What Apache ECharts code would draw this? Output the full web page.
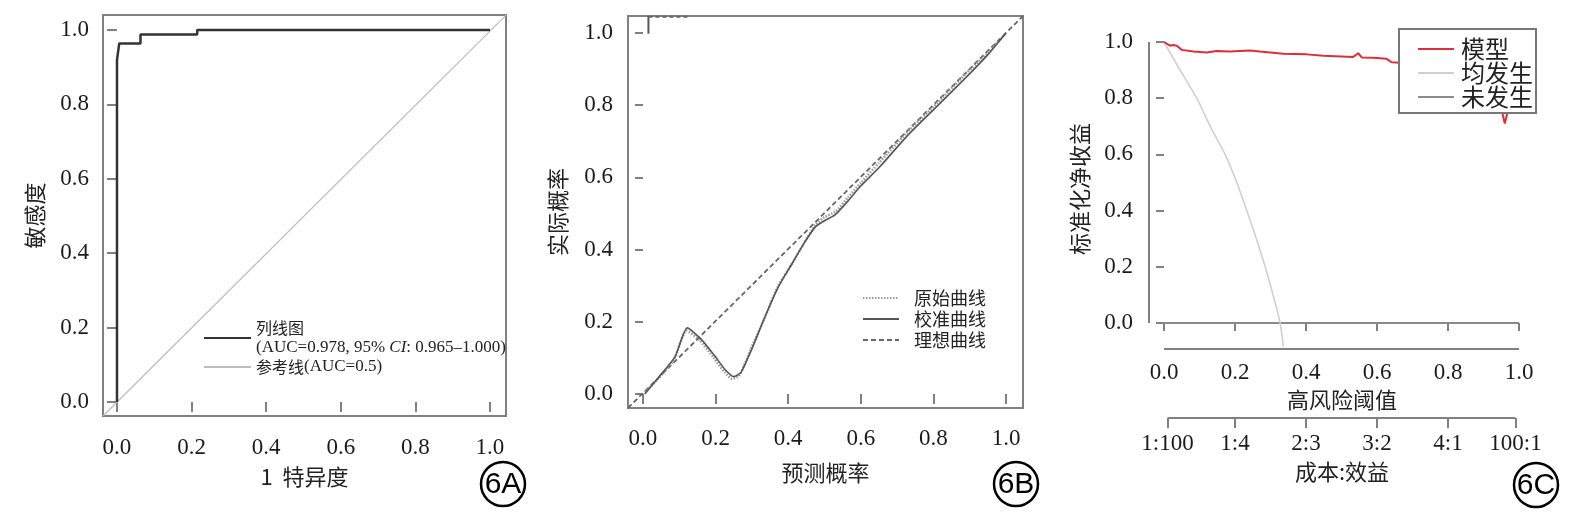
<!DOCTYPE html>
<html><head><meta charset="utf-8">
<script src="https://cdn.jsdelivr.net/npm/echarts@6/dist/echarts.min.js"></script>
<style>html,body{margin:0;padding:0;background:#fff}#c{width:1579px;height:525px}</style>
</head><body><div id="c"></div>
<script>
// ---------- shared ticks ----------
const unitTicks = [0, 0.2, 0.4, 0.6, 0.8, 1.0];
const costTickVals = [0.01, 0.2, 0.4, 0.6, 0.8, 0.99];
const costTickLabels = ['1:100', '1:4', '2:3', '3:2', '4:1', '100:1'];

// ---------- Panel A: ROC ----------
const rocNomogram = [[0,0],[0,0.919],[0.006,0.964],[0.063,0.964],[0.063,0.988],[0.215,0.988],[0.215,1.0],[1.0,1.0]];
const rocReference = [[-0.0375,-0.0376],[1.043,1.040]];
const legendA1 = '{a|列线图}\n{b|(AUC=0.978, 95% }{i|CI}{b|: 0.965–1.000)}';
const legendA2 = '{a|参考线}{b|(AUC=0.5)}';

// ---------- Panel B: calibration ----------
const calApparent = [[0.005,0.005],[0.04,0.04],[0.085,0.095],[0.12,0.175],[0.155,0.15],[0.195,0.1],[0.225,0.06],[0.245,0.042],[0.265,0.05],[0.295,0.12],[0.335,0.21],[0.37,0.295],[0.41,0.36],[0.445,0.42],[0.475,0.468],[0.5,0.49],[0.53,0.505],[0.565,0.545],[0.6,0.585],[0.65,0.64],[0.725,0.722],[0.81,0.805],[0.89,0.888],[0.95,0.945],[1.0,1.0]];
const calCorrected = [[0.005,0.0],[0.042,0.045],[0.088,0.103],[0.122,0.183],[0.16,0.152],[0.198,0.105],[0.226,0.068],[0.25,0.048],[0.27,0.06],[0.30,0.125],[0.336,0.214],[0.373,0.297],[0.41,0.36],[0.445,0.42],[0.475,0.463],[0.50,0.48],[0.529,0.496],[0.565,0.535],[0.598,0.574],[0.653,0.63],[0.726,0.713],[0.809,0.796],[0.892,0.879],[0.95,0.94],[1.0,1.0]];
const calIdeal = [[-0.0413,-0.0388],[1.0468,1.047]];
const rugTick = [[0.015,0.998],[0.015,1.047]];
const rugTop = [[0.015,1.045],[0.125,1.045]];

// ---------- Panel C: decision curve ----------
const dcaModel = [[0,1.0],[0.017,0.987],[0.026,0.989],[0.036,0.987],[0.05,0.972],[0.083,0.966],[0.12,0.963],[0.148,0.968],[0.186,0.966],[0.242,0.970],[0.27,0.966],[0.336,0.958],[0.402,0.956],[0.449,0.951],[0.533,0.947],[0.547,0.960],[0.557,0.945],[0.59,0.944],[0.627,0.940],[0.641,0.928],[0.665,0.926],[0.75,0.915],[0.85,0.895],[0.93,0.86],[0.945,0.79],[0.96,0.71],[0.975,0.79],[0.99,0.85]];
const dcaAll = [[0,1.0],[0.036,0.92],[0.092,0.8],[0.13,0.7],[0.172,0.6],[0.205,0.5],[0.233,0.4],[0.26,0.3],[0.285,0.2],[0.307,0.1],[0.327,0.0],[0.336,-0.085]];
const dcaNone = [[0,0],[1,0]];

// axis ranges
const aX = [-0.0375, 1.0429], aY = [-0.0376, 1.0403];
const bX = [-0.0413, 1.0468], bY = [-0.0388, 1.047];
const cX = [-0.0423, 1.045], cY = [-0.0925, 1.0463];

const serif = 'Liberation Serif';
const cjk = 'Noto Sans CJK SC';
const axisGray = '#808080';
const fmt1 = v => v.toFixed(1);

function lbl(fs, margin, vals, fmt) {
  return {customValues: vals || unitTicks, formatter: fmt || fmt1, fontFamily: serif, fontSize: fs, color: '#1a1a1a', margin: margin};
}
function tck(len, vals) {
  return {show: true, customValues: vals || unitTicks, length: len, lineStyle: {color: axisGray, width: 2}};
}
function vAxis(grid, range, opts) {
  return Object.assign({
    type: 'value', gridIndex: grid, min: range[0], max: range[1],
    axisLine: {show: false}, splitLine: {show: false},
    axisTick: tck(10),
    nameLocation: 'middle',
    nameTextStyle: {fontFamily: cjk, fontSize: 22, color: '#222'}
  }, opts);
}

const chart = echarts.init(document.getElementById('c'));
chart.setOption({
  animation: false,
  grid: [
    {left: 103, top: 15, width: 403, height: 401, show: true, borderColor: axisGray, borderWidth: 2},
    {left: 628, top: 16, width: 395, height: 392, show: true, borderColor: axisGray, borderWidth: 2},
    {left: 1149, top: 29, width: 386, height: 320},
    {left: 1149, top: 408, width: 386, height: 10}
  ],
  xAxis: [
    vAxis(0, aX, {name: '1  特异度', nameGap: 50, axisLabel: lbl(23, 20)}),
    vAxis(1, bX, {name: '预测概率', nameGap: 54, axisLabel: lbl(23, 19)}),
    vAxis(2, cX, {name: '高风险阈值', nameGap: 38, axisTick: tck(8), axisLabel: lbl(23, 12)}),
    vAxis(3, cX, {name: '成本:效益', nameGap: 43, axisTick: tck(10, costTickVals),
      axisLabel: lbl(23, 14, costTickVals, v => costTickLabels[costTickVals.indexOf(v)] || '')})
  ],
  yAxis: [
    vAxis(0, aY, {name: '敏感度', nameGap: 57, axisLabel: lbl(23, 14)}),
    vAxis(1, bY, {name: '实际概率', nameGap: 59, axisTick: tck(8), axisLabel: lbl(23, 15)}),
    vAxis(2, cY, {name: '标准化净收益', nameGap: 58, axisTick: tck(8), axisLabel: lbl(23, 16)}),
    {type: 'value', gridIndex: 3, min: 0, max: 1, show: false}
  ],
  legend: [
    {
      data: ['列线图', '参考线'], orient: 'vertical', left: 203, top: 320, itemGap: 2,
      itemWidth: 47, itemHeight: 14, padding: 0, itemStyle: {opacity: 0},
      formatter: n => n === '列线图' ? legendA1 : legendA2,
      textStyle: {rich: {
        a: {fontFamily: cjk, fontSize: 16, lineHeight: 20, color: '#222'},
        b: {fontFamily: serif, fontSize: 17, lineHeight: 20, color: '#222'},
        i: {fontFamily: serif, fontSize: 17, lineHeight: 20, fontStyle: 'italic', color: '#222'}
      }}
    },
    {
      data: ['原始曲线', '校准曲线', '理想曲线'], orient: 'vertical', left: 862, top: 288, itemGap: 1,
      itemWidth: 36, itemHeight: 14, padding: 0, itemStyle: {opacity: 0},
      textStyle: {fontFamily: cjk, fontSize: 18, lineHeight: 20, color: '#222', padding: [0, 0, 0, 10]}
    },
    {
      data: ['模型', '均发生', '未发生'], orient: 'vertical', left: 1399, top: 29, itemGap: 0,
      itemWidth: 36, itemHeight: 14, padding: [8, 3, 4, 18], itemStyle: {opacity: 0},
      backgroundColor: '#fff', borderColor: '#777', borderWidth: 2,
      textStyle: {fontFamily: cjk, fontSize: 24, lineHeight: 20, color: '#222', padding: [0, 0, 0, 2]}
    }
  ],
  series: [
    {name: '参考线', type: 'line', xAxisIndex: 0, yAxisIndex: 0, data: rocReference, symbol: 'none', lineStyle: {color: '#bdbdbd', width: 1.3}, itemStyle: {color: '#bdbdbd'}},
    {name: '列线图', type: 'line', xAxisIndex: 0, yAxisIndex: 0, data: rocNomogram, symbol: 'none', lineStyle: {color: '#333', width: 2.5}, itemStyle: {color: '#333'}},

    {name: '理想曲线', type: 'line', xAxisIndex: 1, yAxisIndex: 1, data: calIdeal, symbol: 'none', lineStyle: {color: '#666', width: 1.8, type: [5, 3]}, itemStyle: {color: '#666'}},
    {name: '原始曲线', type: 'line', xAxisIndex: 1, yAxisIndex: 1, data: calApparent, symbol: 'none', smooth: 0.2, lineStyle: {color: '#999', width: 2.5, type: [1.5, 1.5]}, itemStyle: {color: '#999'}},
    {name: '校准曲线', type: 'line', xAxisIndex: 1, yAxisIndex: 1, data: calCorrected, symbol: 'none', smooth: 0.2, lineStyle: {color: '#555', width: 1.6}, itemStyle: {color: '#555'}},
    {name: 'rugTick', type: 'line', xAxisIndex: 1, yAxisIndex: 1, data: rugTick, symbol: 'none', clip: false, silent: true, lineStyle: {color: '#555', width: 2}},
    {name: 'rugTop', type: 'line', xAxisIndex: 1, yAxisIndex: 1, data: rugTop, symbol: 'none', clip: false, silent: true, lineStyle: {color: '#666', width: 2, type: [4, 3]}},

    {name: '未发生', type: 'line', xAxisIndex: 2, yAxisIndex: 2, data: dcaNone, symbol: 'none', lineStyle: {color: '#8a8a8a', width: 2}, itemStyle: {color: '#8a8a8a'}},
    {name: '均发生', type: 'line', xAxisIndex: 2, yAxisIndex: 2, data: dcaAll, symbol: 'none', smooth: 0.3, lineStyle: {color: '#d0d0d0', width: 1.6}, itemStyle: {color: '#d0d0d0'}},
    {name: '模型', type: 'line', xAxisIndex: 2, yAxisIndex: 2, data: dcaModel, symbol: 'none', lineStyle: {color: '#dc2f3a', width: 2}, itemStyle: {color: '#dc2f3a'}},
    {name: 'cYLine', type: 'line', xAxisIndex: 2, yAxisIndex: 2, data: [[cX[0], 0], [cX[0], 1]], symbol: 'none', clip: false, silent: true, lineStyle: {color: axisGray, width: 2}},
    {name: 'cXLine', type: 'line', xAxisIndex: 2, yAxisIndex: 2, data: [[0, cY[0]], [1, cY[0]]], symbol: 'none', clip: false, silent: true, lineStyle: {color: axisGray, width: 2}},
    {name: 'costLine', type: 'line', xAxisIndex: 3, yAxisIndex: 3, data: [[costTickVals[0], 0], [costTickVals[5], 0]], symbol: 'none', clip: false, silent: true, lineStyle: {color: axisGray, width: 2}}
  ],
  graphic: [
    {type: 'circle', shape: {cx: 503, cy: 484, r: 22}, style: {fill: 'none', stroke: '#000', lineWidth: 2.5}},
    {type: 'text', x: 503, y: 485, style: {text: '6A', fontFamily: 'Liberation Sans Narrow, Liberation Sans', fontSize: 30, fill: '#000', align: 'center', verticalAlign: 'middle'}},
    {type: 'circle', shape: {cx: 1016, cy: 484, r: 22}, style: {fill: 'none', stroke: '#000', lineWidth: 2.5}},
    {type: 'text', x: 1016, y: 485, style: {text: '6B', fontFamily: 'Liberation Sans Narrow, Liberation Sans', fontSize: 30, fill: '#000', align: 'center', verticalAlign: 'middle'}},
    {type: 'circle', shape: {cx: 1536, cy: 485, r: 22}, style: {fill: 'none', stroke: '#000', lineWidth: 2.5}},
    {type: 'text', x: 1536, y: 486, style: {text: '6C', fontFamily: 'Liberation Sans Narrow, Liberation Sans', fontSize: 30, fill: '#000', align: 'center', verticalAlign: 'middle'}}
  ]
});
</script></body></html>
